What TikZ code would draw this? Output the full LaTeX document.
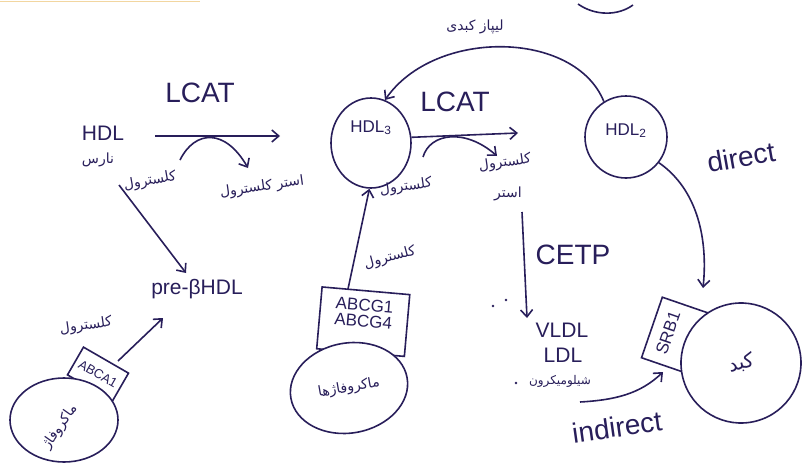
\documentclass[tikz,border=0pt]{standalone}
\usepackage{fontspec}
\setmainfont{Liberation Sans}
\newfontfamily\fa[Script=Arabic]{DejaVu Sans}
\TeXXeTstate=1
\usetikzlibrary{arrows.meta,shapes.geometric,calc}
\definecolor{ink}{RGB}{40,30,90}
\definecolor{smudge}{RGB}{242,214,160}
\newcommand{\pr}[1]{{\fa\beginR #1\endR}}
\begin{document}
\begin{tikzpicture}[x=1pt,y=-1pt, line width=1.6pt, draw=ink, text=ink,
  arr/.style={-{Straight Barb[length=7pt,width=12pt]}},
  big/.style={font=\fontsize{28}{30}\selectfont},
  lat/.style={font=\fontsize{21}{23}\selectfont},
  mid/.style={font=\fontsize{17}{19}\selectfont},
  small/.style={font=\fontsize{13}{15}\selectfont},
  fat/.style={font=\fontsize{14}{16}\selectfont},
  cell/.style={draw, ellipse, fill=white},
  tag/.style={draw, fill=white, inner sep=2pt}]
\useasboundingbox (0,0) rectangle (809,463);
\draw[smudge, line width=1pt] (0,1.5) -- (200,1.5);
% top partial circle
\coordinate (t1) at (578,4); \coordinate (t2) at (633,5);
\draw (t1) .. controls (595,16) and (618,16) .. (t2);

% ---------------- left part
\node[big] (lcat1) at (200,93) {LCAT};
\node[lat] (hdlimm) at (103,133) {HDL};
\node[fat] (nars) at (98,160) {\pr{نارس}};
\coordinate (a1s) at (155,136); \coordinate (a1e) at (280,136);
\draw[arr] (a1s) -- (a1e);
\node[fat, rotate=10] (chol1) at (150,181) {\pr{کلسترول}};
\node[fat, rotate=8] (ester1) at (262,187) {\pr{استر کلسترول}};
\coordinate (c1s) at (180,160); \coordinate (c1e) at (248,168);
\draw[arr] (c1s) .. controls (195,130) and (225,128) .. (c1e);

\node[lat] (pre) at (197,289) {pre-βHDL};
\coordinate (a2s) at (119,185); \coordinate (a2e) at (186,273);
\draw[arr] (a2s) -- (a2e);

\node[tag, rotate=-30, minimum width=52pt, minimum height=32pt, small] (abca) at (98,374) {ABCA1};
\draw[fill=white] (64,420) ellipse [x radius=54, y radius=42];
\node[fat, rotate=55] (mac1t) at (60,427) {\pr{ماکروفاژ}};
\coordinate (a3s) at (118,361); \coordinate (a3e) at (163,318);
\draw[arr] (a3s) -- (a3e);
\node[fat, rotate=8] (chol2) at (86,326) {\pr{کلسترول}};

% ---------------- middle part
\node[draw, ellipse, minimum width=80pt, minimum height=90pt, mid, align=center] (hdl3) at (371,143) {HDL\textsubscript{3}\\[14pt]\mbox{}};
\node[draw, circle, minimum size=82pt, mid, align=center] (hdl2) at (626,137) {HDL\textsubscript{2}\\[-4pt]\mbox{}};
\draw[arr] (hdl2.122) .. controls (575,30) and (435,28) .. (hdl3.72);
\node[fat] (lip) at (475,27) {\pr{لیپاز کبدی}};

\node[big] (lcat2) at (455,102) {LCAT};
\coordinate (a4e) at (518,133);
\draw[arr] (hdl3.8) -- (a4e);
\coordinate (c2s) at (423,157); \coordinate (c2e) at (497,156);
\draw[arr] (c2s) .. controls (430,133) and (465,128) .. (c2e);
\node[fat, rotate=8] (chol3) at (406,187) {\pr{کلسترول}};
\node[fat, rotate=8] (chol4) at (505,163) {\pr{کلسترول}};
\node[fat] (ester2) at (508,194) {\pr{استر}};

\node[tag, rotate=-5, minimum width=88pt, minimum height=62pt, anchor=north, mid, align=left] (abcg) at (366,290) {ABCG1\\[-3pt]ABCG4\\[-2pt]\mbox{}};
\node[cell, rotate=10, minimum width=118pt, minimum height=90pt, fat] (mac2) at (349,388) {\pr{ماکروفاژها}};
\coordinate (a5s) at (348,289);
\draw[arr] (a5s) -- (hdl3.268);
\node[fat, rotate=15] (chol5) at (390,258) {\pr{کلسترول}};

% ---------------- right part
\coordinate (a6s) at (522,212); \coordinate (a6e) at (527,318);
\draw[arr] (a6s) -- (a6e);
\node[big] (cetp) at (573,255) {CETP};
\node[lat] (vldl) at (562,330) {VLDL};
\node[lat] (ldl) at (563,355) {LDL};
\node[font=\fontsize{12}{14}\selectfont] (chylo) at (560,381) {\pr{شیلومیکرون}};
\fill[ink] (493,306) circle (1.4pt) (506,300) circle (1.4pt) (516,383) circle (1.4pt);

\coordinate (a7e) at (703,288);
\draw[arr] (hdl2.-38) .. controls (698,190) and (708,240) .. (a7e);
\node[big, rotate=10] (direct) at (741,157) {direct};

\begin{scope}[shift={(668,333)}, rotate=71]
  \draw[fill=white] (-32,-17) rectangle (32,45);
\end{scope}
\node[mid, rotate=71] (srbt) at (668,333) {SRB1};
\node[cell, circle, rotate=15, minimum size=120pt, font=\fontsize{20}{22}\selectfont] (liver) at (741,363) {\pr{کبد}};

\coordinate (a8s) at (580,402); \coordinate (a8e) at (663,372);
\draw[arr] (a8s) .. controls (615,400) and (640,394) .. (a8e);
\node[big, rotate=8] (indirect) at (617,427) {indirect};
\end{tikzpicture}
\end{document}
